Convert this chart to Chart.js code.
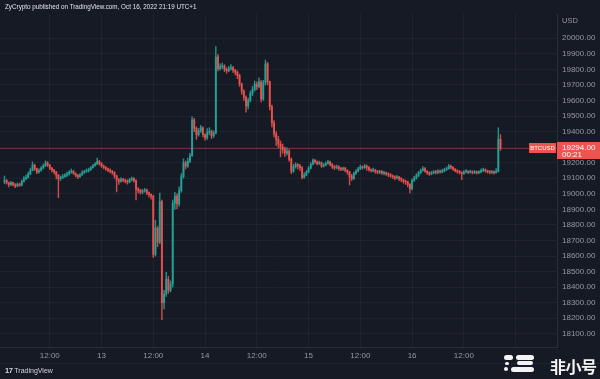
<!DOCTYPE html>
<html lang="en">
<head>
<meta charset="UTF-8">
<title>BTCUSD - TradingView</title>
<script src="https://cdn.jsdelivr.net/npm/chart.js"></script>
<style>
  body { margin: 0; background: #161a25; width: 600px; height: 379px; overflow: hidden; position: relative;
         font-family: 'Liberation Sans', Arial, sans-serif; }
  #btc { position: absolute; left: 0; top: 0; }
  .hdr { position: absolute; left: 5px; top: 3px; font-size: 6.3px; color: #e0e3eb; white-space: nowrap; }
  .usd { position: absolute; left: 562px; top: 16px; font-size: 7.5px; color: #9598a1; }
  .foot { position: absolute; left: 5px; top: 366px; font-size: 7px; color: #d1d4dc; white-space: nowrap; }
  .foot b { font-size: 7.5px; margin-right: 2px; letter-spacing: -0.5px; }
  .sep { position: absolute; left: 0; top: 363px; width: 600px; height: 1px; background: #20242f; }
  .wm { position: absolute; left: 550px; top: 354px; font-size: 16px; font-weight: bold; color: #f4f4f4;
        font-family: 'Noto Sans CJK SC', sans-serif; letter-spacing: -0.5px; }
  .lg { position: absolute; background: #f4f4f4; border-radius: 3px; }
</style>
</head>
<body>
<canvas id="btc" width="600" height="379"></canvas>
<div class="hdr">ZyCrypto published on TradingView.com, Oct 16, 2022 21:19 UTC+1</div>
<div class="usd">USD</div>
<div class="sep"></div>
<div class="foot"><b>17</b>TradingView</div>
<div class="lg" style="left:504px;top:355px;width:9px;height:5px"></div>
<div class="lg" style="left:516px;top:355px;width:18px;height:5px"></div>
<div class="lg" style="left:505px;top:362px;width:4px;height:3px"></div>
<div class="lg" style="left:517px;top:361px;width:16px;height:4px"></div>
<div class="lg" style="left:504px;top:367px;width:4px;height:4px"></div>
<div class="lg" style="left:511px;top:367px;width:23px;height:5px"></div>
<div class="wm">非小号</div>
<script>
// 30-minute candles, time in hours since Oct 12 00:00 (UTC+1)
const startHour = 1.5;
const stepHours = 0.5;
const firstOpen = 19078;

const closes = [
  19085, 19070, 19060, 19072, 19058, 19050, 19062, 19055, 19080, 19098,
  19105, 19128, 19150, 19185, 19160, 19140, 19150, 19165, 19180, 19198,
  19185, 19165, 19152, 19140, 19120, 19098, 19105, 19112, 19120, 19128,
  19138, 19145, 19130, 19118, 19110, 19122, 19135, 19142, 19148, 19155,
  19168, 19180, 19192, 19208, 19195, 19178, 19170, 19160, 19152, 19145,
  19138, 19115, 19090, 19080, 19092, 19088, 19082, 19076, 19090, 19098,
  19085, 19030, 19022, 19010, 19018, 19025, 19008, 18995, 18985, 18610,
  18780, 18690, 18950, 18300, 18355, 18450, 18380, 18420, 18940, 18985,
  18935, 19020, 19110, 19200, 19178, 19210, 19245, 19475, 19420, 19380,
  19405, 19425, 19380, 19360, 19395, 19402, 19372, 19390, 19880, 19805,
  19818, 19822, 19800, 19792, 19805, 19812, 19795, 19782, 19760, 19705,
  19660, 19620, 19565, 19600, 19645, 19670, 19705, 19690, 19720, 19610,
  19715, 19835, 19720, 19560, 19455, 19385, 19350, 19320, 19300, 19285,
  19262, 19275, 19222, 19145, 19175, 19188, 19180, 19168, 19105, 19120,
  19140, 19165, 19190, 19215, 19205, 19195, 19200, 19178, 19185, 19195,
  19205, 19188, 19172, 19168, 19175, 19162, 19158, 19165, 19150, 19140,
  19112, 19098, 19130, 19145, 19160, 19172, 19168, 19178, 19170, 19155,
  19148, 19152, 19142, 19138, 19145, 19132, 19136, 19128, 19122, 19115,
  19110, 19102, 19108, 19096, 19090, 19080, 19075, 19060, 19032, 19085,
  19100, 19118, 19135, 19150, 19162, 19145, 19135, 19128, 19135, 19140,
  19138, 19145, 19140, 19148, 19155, 19162, 19178, 19170, 19158, 19148,
  19142, 19138, 19130, 19140, 19145, 19138, 19142, 19135, 19140, 19136,
  19140, 19150, 19155, 19148, 19142, 19138, 19142, 19136, 19145, 19350, 19294
];
const highs = [
  19115, 19092, 19075, 19080, 19075, 19065, 19070, 19068, 19088, 19110,
  19120, 19140, 19165, 19205, 19190, 19165, 19160, 19175, 19190, 19212,
  19208, 19190, 19170, 19158, 19145, 19125, 19115, 19125, 19130, 19140,
  19150, 19160, 19150, 19135, 19125, 19130, 19148, 19152, 19160, 19165,
  19175, 19190, 19200, 19230, 19215, 19200, 19185, 19175, 19165, 19160,
  19150, 19142, 19120, 19100, 19105, 19100, 19095, 19090, 19100, 19108,
  19105, 19090, 19040, 19030, 19028, 19035, 19030, 19012, 19000, 18990,
  18830, 18790, 19005, 18960, 18380, 18495, 18470, 18440, 18960, 19010,
  19000, 19045, 19130, 19225, 19210, 19230, 19260, 19495, 19485, 19430,
  19420, 19440, 19430, 19385, 19420, 19425, 19410, 19405, 19946, 19895,
  19835, 19840, 19830, 19810, 19820, 19830, 19820, 19800, 19790, 19770,
  19712, 19668, 19630, 19615, 19660, 19690, 19725, 19720, 19745, 19728,
  19730, 19860, 19845, 19725, 19570, 19470, 19400, 19370, 19340, 19320,
  19300, 19295, 19285, 19230, 19190, 19200, 19195, 19190, 19175, 19135,
  19150, 19175, 19200, 19225, 19222, 19212, 19210, 19205, 19195, 19205,
  19215, 19210, 19195, 19182, 19185, 19180, 19170, 19172, 19170, 19155,
  19145, 19125, 19140, 19155, 19170, 19185, 19180, 19190, 19185, 19175,
  19160, 19165, 19158, 19150, 19152, 19150, 19145, 19140, 19135, 19130,
  19122, 19115, 19118, 19112, 19105, 19095, 19088, 19082, 19065, 19095,
  19112, 19130, 19145, 19160, 19175, 19168, 19150, 19142, 19145, 19150,
  19150, 19155, 19152, 19158, 19165, 19172, 19190, 19185, 19175, 19162,
  19155, 19150, 19142, 19150, 19155, 19150, 19152, 19148, 19150, 19146,
  19148, 19160, 19165, 19160, 19152, 19150, 19150, 19148, 19162, 19425, 19380
];
const lows = [
  19065, 19062, 19045, 19052, 19050, 19040, 19045, 19048, 19050, 19075,
  19090, 19100, 19122, 19148, 19150, 19130, 19132, 19145, 19160, 19175,
  19175, 19155, 19140, 19128, 19095, 18975, 19085, 19098, 19105, 19110,
  19120, 19132, 19125, 19108, 19098, 19105, 19118, 19130, 19138, 19140,
  19150, 19165, 19178, 19188, 19185, 19170, 19160, 19150, 19142, 19135,
  19125, 19100, 19012, 19060, 19075, 19078, 19070, 19062, 19070, 19082,
  19075, 18960, 19005, 18998, 19000, 19010, 18995, 18978, 18965, 18590,
  18600, 18660, 18680, 18190, 18260, 18340, 18360, 18370, 18400, 18900,
  18905, 18920, 19010, 19100, 19160, 19170, 19200, 19240, 19400, 19350,
  19370, 19395, 19365, 19345, 19350, 19380, 19355, 19362, 19385, 19790,
  19795, 19805, 19785, 19775, 19785, 19795, 19780, 19765, 19740, 19690,
  19640, 19600, 19525, 19545, 19590, 19630, 19660, 19670, 19680, 19590,
  19600, 19700, 19700, 19540, 19430, 19365, 19310, 19295, 19237, 19260,
  19240, 19250, 19210, 19130, 19138, 19165, 19160, 19150, 19095, 19100,
  19115, 19135, 19160, 19185, 19195, 19185, 19188, 19170, 19172, 19180,
  19190, 19180, 19162, 19155, 19160, 19150, 19148, 19150, 19140, 19125,
  19057, 19085, 19092, 19125, 19140, 19155, 19158, 19162, 19150, 19145,
  19140, 19140, 19132, 19128, 19130, 19125, 19122, 19118, 19110, 19105,
  19098, 19090, 19095, 19085, 19078, 19068, 19060, 19045, 19005, 19025,
  19080, 19095, 19110, 19130, 19145, 19138, 19125, 19118, 19122, 19128,
  19128, 19130, 19132, 19135, 19140, 19150, 19158, 19160, 19150, 19140,
  19132, 19128, 19090, 19125, 19135, 19130, 19132, 19128, 19130, 19126,
  19130, 19135, 19142, 19138, 19132, 19128, 19130, 19126, 19132, 19140, 19280
];

// axis ticks
const timeTicks = [12, 24, 36, 48, 60, 72, 84, 96, 108, 120];
const timeLabels = ['12:00', '13', '12:00', '14', '12:00', '15', '12:00', '16', '12:00', ''];
const priceTop = 20000;
const countdown = '00:21';

const UP = 'rgba(38, 166, 154, 0.85)', DOWN = 'rgba(239, 83, 80, 0.85)';

const bodies = [], wicks = [], colors = [];
let prev = firstOpen;
closes.forEach((c, i) => {
  const t = startHour + i * stepHours;
  const o = prev;
  const hi = Math.max(highs[i], o, c), lo = Math.min(lows[i], o, c);
  bodies.push({ x: t, y: [o, c] });
  wicks.push({ x: t, y: [lo, hi] });
  colors.push(c >= o ? UP : DOWN);
  prev = c;
});
const lastPrice = closes[closes.length - 1];

// last price line + the two red labels on the price axis
const lastLine = {
  id: 'lastLine',
  beforeDatasetsDraw(chart) {
    const { ctx, chartArea: a, scales: { y } } = chart;
    const py = Math.round(y.getPixelForValue(lastPrice)) + 0.5;
    ctx.save();
    ctx.strokeStyle = 'rgba(239, 83, 80, 0.4)';
    ctx.lineWidth = 1;
    ctx.beginPath();
    ctx.moveTo(a.left, py);
    ctx.lineTo(a.right, py);
    ctx.stroke();
    ctx.restore();
  },
  afterDraw(chart) {
    const { ctx, chartArea: a, scales: { y } } = chart;
    const py = Math.round(y.getPixelForValue(lastPrice));
    ctx.save();
    ctx.fillStyle = '#ef5350';
    ctx.fillRect(a.right - 28, py - 5, 27, 10);
    ctx.fillRect(a.right, py - 6, 43, 17);
    ctx.fillStyle = '#ffffff';
    ctx.textBaseline = 'middle';
    ctx.font = '6px "Liberation Sans", Arial, sans-serif';
    ctx.textAlign = 'center';
    ctx.fillText('BTCUSD', a.right - 14.5, py + 0.5);
    ctx.textAlign = 'left';
    ctx.font = '8px "Liberation Sans", Arial, sans-serif';
    ctx.fillText(lastPrice.toFixed(2), a.right + 5, py - 0.5);
    ctx.fillText(countdown, a.right + 5, py + 6.5);
    ctx.restore();
  }
};

const gridCol = 'rgba(255, 255, 255, 0.045)';

new Chart(document.getElementById('btc'), {
  type: 'bar',
  data: {
    datasets: [
      {
        data: bodies,
        backgroundColor: colors,
        barThickness: 1.3,
        minBarLength: 1,
        grouped: false
      },
      {
        data: wicks,
        backgroundColor: colors,
        barThickness: 0.8,
        grouped: false
      }
    ]
  },
  options: {
    responsive: false,
    animation: false,
    layout: { padding: { top: 14, bottom: 16, left: 0, right: 0 } },
    plugins: { legend: { display: false }, tooltip: { enabled: false } },
    scales: {
      x: {
        type: 'linear',
        offset: false,
        min: 0.46,
        max: 129.6,
        afterFit: s => { s.height = 16; },
        afterBuildTicks: s => { s.ticks = timeTicks.map(v => ({ value: v })); },
        ticks: {
          color: '#9598a1',
          font: { size: 8, family: 'Liberation Sans' },
          padding: 4,
          maxRotation: 0,
          autoSkip: false,
          callback: (v, i) => timeLabels[i]
        },
        grid: { color: gridCol, drawTicks: false, offset: false },
        border: { color: '#2a2e39' }
      },
      y: {
        position: 'right',
        min: 18015,
        max: 20156,
        afterFit: s => { s.width = 43; },
        ticks: {
          stepSize: 100,
          includeBounds: false,
          color: '#9598a1',
          font: { size: 8, family: 'Liberation Sans' },
          padding: 5,
          autoSkip: false,
          callback: v => (v > priceTop ? '' : v.toFixed(2))
        },
        grid: {
          color: c => (c.tick && c.tick.value > priceTop ? 'transparent' : gridCol),
          drawTicks: false
        },
        border: { color: '#2a2e39' }
      }
    }
  },
  plugins: [lastLine]
});
</script>
</body>
</html>
